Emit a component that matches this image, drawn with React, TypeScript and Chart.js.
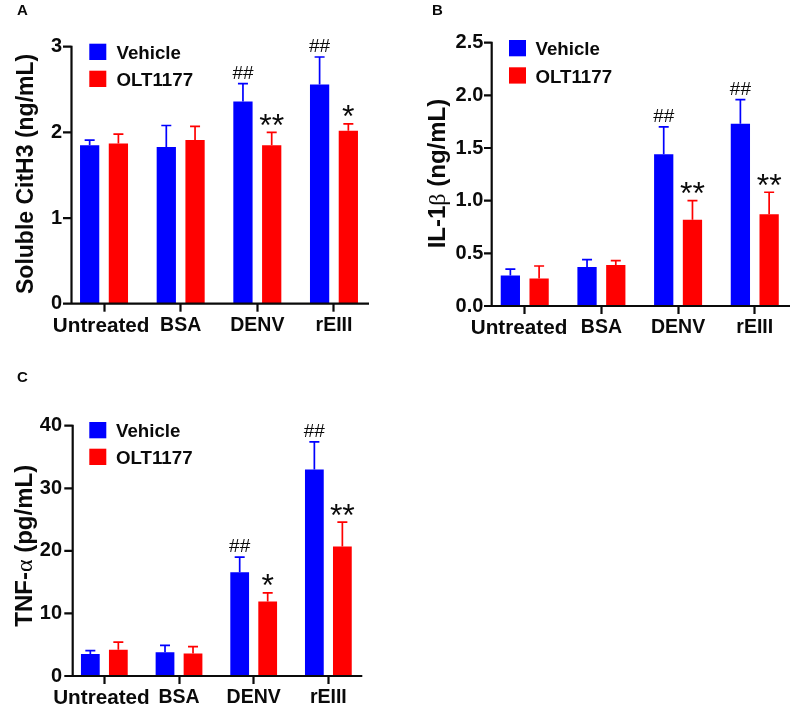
import React, { useEffect, useRef } from "react";
import { Chart, registerables } from "chart.js";

Chart.register(...registerables);

const FONT = '"Liberation Sans", Arial, sans-serif';
const BLUE = "#0000ff";
const RED = "#ff0000";
const BLACK = "#0a0a0a";

const seriesNames = ["Vehicle", "OLT1177"];
const categoriesA = ["Untreated ", "BSA", "DENV", "rEIII"];
const categoriesB = ["Untreated  ", "BSA", "DENV", "rEIII"];
const categoriesC = ["Untreated ", "BSA", "DENV", "rEIII"];

const vehicleA = [1.85, 1.83, 2.36, 2.56];
const vehicleErrA = [1.91, 2.08, 2.57, 2.88];
const oltA = [1.87, 1.91, 1.85, 2.02];
const oltErrA = [1.98, 2.07, 2.0, 2.1];
const vehicleMarksA = ["", "", "##", "##"];
const oltMarksA = ["", "", "**", "*"];

const vehicleB = [0.29, 0.37, 1.44, 1.73];
const vehicleErrB = [0.35, 0.44, 1.7, 1.96];
const oltB = [0.26, 0.39, 0.82, 0.87];
const oltErrB = [0.38, 0.43, 1.0, 1.08];
const vehicleMarksB = ["", "", "##", "##"];
const oltMarksB = ["", "", "**", "**"];

const vehicleC = [3.5, 3.8, 16.6, 33];
const vehicleErrC = [4.05, 4.9, 19, 37.4];
const oltC = [4.2, 3.6, 11.9, 20.7];
const oltErrC = [5.4, 4.7, 13.3, 24.6];
const vehicleMarksC = ["", "", "##", "##"];
const oltMarksC = ["", "", "*", "**"];

type Seg = { t: string; serif?: boolean };
type Panel = {
  letter: string;
  origin: [number, number];
  size: [number, number];
  plot: { left: number; right: number; top: number; bottom: number };
  axis: { x: number; start: number; end: number };
  categories: string[];
  vehicle: number[];
  vehicleErr: number[];
  olt: number[];
  oltErr: number[];
  vehicleMarks: string[];
  oltMarks: string[];
  yMax: number;
  yStep: number;
  yDecimals: number;
  tickPad: number;
  xPad: number;
  title: Seg[];
  titleSize: number;
  titleX: number;
  titleStart: number;
  legend: { x: number; textX: number; y1: number; y2: number };
  letterPos: [number, number];
};

const panels: Panel[] = [
  {
    letter: "A",
    origin: [0, 0],
    size: [405, 345],
    plot: { left: 65.7, right: 372.3, top: 46.7, bottom: 303.7 },
    axis: { x: 71.5, start: 63, end: 369 },
    categories: categoriesA,
    vehicle: vehicleA,
    vehicleErr: vehicleErrA,
    olt: oltA,
    oltErr: oltErrA,
    vehicleMarks: vehicleMarksA,
    oltMarks: oltMarksA,
    yMax: 3,
    yStep: 1,
    yDecimals: 0,
    tickPad: 3.7,
    xPad: 2,
    title: [{ t: "Soluble CitH3 (ng/mL)" }],
    titleSize: 23,
    titleX: 33,
    titleStart: 294,
    legend: { x: 89.3, textX: 116.5, y1: 43.7, y2: 70.7 },
    letterPos: [17, 15],
  },
  {
    letter: "B",
    origin: [410, 0],
    size: [390, 345],
    plot: { left: 486.4, right: 793.1, top: 42.7, bottom: 306 },
    axis: { x: 491.7, start: 484, end: 790 },
    categories: categoriesB,
    vehicle: vehicleB,
    vehicleErr: vehicleErrB,
    olt: oltB,
    oltErr: oltErrB,
    vehicleMarks: vehicleMarksB,
    oltMarks: oltMarksB,
    yMax: 2.5,
    yStep: 0.5,
    yDecimals: 1,
    tickPad: 3,
    xPad: 2,
    title: [{ t: "IL-1" }, { t: "\u03b2", serif: true }, { t: " (ng/mL)" }],
    titleSize: 24,
    titleX: 444.5,
    titleStart: 248.3,
    legend: { x: 509, textX: 535.5, y1: 40, y2: 67.3 },
    letterPos: [432, 15],
  },
  {
    letter: "C",
    origin: [0, 360],
    size: [405, 348],
    plot: { left: 67, right: 365.7, top: 425.7, bottom: 676 },
    axis: { x: 72.7, start: 64.3, end: 362.3 },
    categories: categoriesC,
    vehicle: vehicleC,
    vehicleErr: vehicleErrC,
    olt: oltC,
    oltErr: oltErrC,
    vehicleMarks: vehicleMarksC,
    oltMarks: oltMarksC,
    yMax: 40,
    yStep: 10,
    yDecimals: 0,
    tickPad: 5,
    xPad: 2,
    title: [{ t: "TNF-" }, { t: "\u03b1", serif: true }, { t: " (pg/mL)" }],
    titleSize: 24,
    titleX: 32,
    titleStart: 626.7,
    legend: { x: 89.3, textX: 116, y1: 422, y2: 448.7 },
    letterPos: [17, 382],
  },
];

function decorations(p: Panel) {
  const [ox, oy] = p.origin;
  return {
    id: "decorations" + p.letter,
    afterDatasetsDraw(chart: any) {
      const ctx = chart.ctx;
      const y = chart.scales.y;
      const errs = [p.vehicleErr, p.oltErr];
      const marks = [p.vehicleMarks, p.oltMarks];
      ctx.save();
      // error bars and significance marks
      chart.data.datasets.forEach((ds: any, di: number) => {
        const meta = chart.getDatasetMeta(di);
        meta.data.forEach((bar: any, i: number) => {
          const top = y.getPixelForValue(errs[di][i]);
          ctx.strokeStyle = ds.backgroundColor;
          ctx.lineWidth = 1.7;
          ctx.beginPath();
          ctx.moveTo(bar.x, bar.y);
          ctx.lineTo(bar.x, top);
          ctx.moveTo(bar.x - 5, top);
          ctx.lineTo(bar.x + 5, top);
          ctx.stroke();
          const m = marks[di][i];
          if (m) {
            ctx.fillStyle = BLACK;
            ctx.textAlign = "center";
            ctx.textBaseline = "alphabetic";
            if (m[0] === "#") {
              ctx.font = `19px ${FONT}`;
              ctx.fillText(m, bar.x, top - 5);
            } else {
              ctx.font = `32px ${FONT}`;
              ctx.fillText(m, bar.x, top + 3.5);
            }
          }
        });
      });
      // axis lines and y tick marks
      ctx.strokeStyle = BLACK;
      ctx.lineWidth = 2.2;
      ctx.beginPath();
      const ax = p.axis.x - ox;
      const bottom = p.plot.bottom - oy;
      ctx.moveTo(ax, p.plot.top - oy - 1);
      ctx.lineTo(ax, bottom + 1);
      ctx.moveTo(p.axis.start - ox, bottom);
      ctx.lineTo(p.axis.end - ox, bottom);
      y.ticks.forEach((t: any) => {
        const py = y.getPixelForValue(t.value);
        ctx.moveTo(p.axis.start - ox, py);
        ctx.lineTo(ax, py);
      });
      ctx.stroke();
      // legend
      const ys = [p.legend.y1 - oy, p.legend.y2 - oy];
      chart.data.datasets.forEach((ds: any, di: number) => {
        ctx.fillStyle = ds.backgroundColor;
        ctx.fillRect(p.legend.x - ox, ys[di], 17, 16.3);
        ctx.fillStyle = BLACK;
        ctx.font = `bold 18.7px ${FONT}`;
        ctx.textAlign = "left";
        ctx.textBaseline = "alphabetic";
        ctx.fillText(ds.label, p.legend.textX - ox, ys[di] + 15.3);
      });
      // panel letter
      ctx.font = `bold 15px ${FONT}`;
      ctx.fillStyle = BLACK;
      ctx.fillText(p.letter, p.letterPos[0] - ox, p.letterPos[1] - oy);
      // y axis title with mixed fonts
      ctx.translate(p.titleX - ox, p.titleStart - oy);
      ctx.rotate(-Math.PI / 2);
      let cursor = 0;
      p.title.forEach((s) => {
        ctx.font = s.serif
          ? `${p.titleSize}px "Liberation Serif", serif`
          : `bold ${p.titleSize}px ${FONT}`;
        ctx.fillText(s.t, cursor, 0);
        cursor += ctx.measureText(s.t).width;
      });
      ctx.restore();
    },
  };
}

function PanelChart({ p }: { p: Panel }) {
  const ref = useRef<HTMLCanvasElement>(null);
  useEffect(() => {
    const [ox, oy] = p.origin;
    const chart = new Chart(ref.current as HTMLCanvasElement, {
      type: "bar",
      data: {
        labels: p.categories,
        datasets: [
          { label: seriesNames[0], data: p.vehicle, backgroundColor: BLUE, categoryPercentage: 0.75, barPercentage: 0.67 },
          { label: seriesNames[1], data: p.olt, backgroundColor: RED, categoryPercentage: 0.75, barPercentage: 0.67 },
        ],
      },
      options: {
        responsive: false,
        animation: false,
        devicePixelRatio: 1,
        layout: {
          padding: { top: p.plot.top - oy, right: p.size[0] - (p.plot.right - ox), left: 0, bottom: 0 },
        },
        plugins: { legend: { display: false }, tooltip: { enabled: false }, title: { display: false } },
        scales: {
          x: {
            grid: { display: true, offset: false, drawOnChartArea: false, drawTicks: true, tickLength: 8, tickWidth: 2.2, tickColor: BLACK },
            border: { display: false },
            ticks: {
              autoSkip: false,
              maxRotation: 0,
              minRotation: 0,
              padding: p.xPad,
              color: BLACK,
              font: (c: any) => ({ family: FONT, weight: "bold", size: c.index === 0 ? 20.7 : 19.5 }),
            },
            afterFit: (s: any) => {
              s.height = p.size[1] - (p.plot.bottom - oy);
            },
          },
          y: {
            min: 0,
            max: p.yMax,
            grid: { display: false, drawTicks: false },
            border: { display: false },
            ticks: {
              stepSize: p.yStep,
              padding: p.tickPad,
              color: BLACK,
              font: { family: FONT, weight: "bold", size: 20 },
              callback: (v: any) => Number(v).toFixed(p.yDecimals),
            },
            afterFit: (s: any) => {
              s.width = p.plot.left - ox;
            },
          },
        },
      } as any,
      plugins: [decorations(p)],
    });
    return () => chart.destroy();
  }, [p]);
  return (
    <canvas
      ref={ref}
      width={p.size[0]}
      height={p.size[1]}
      style={{ position: "absolute", left: p.origin[0], top: p.origin[1], width: p.size[0], height: p.size[1] }}
    />
  );
}

export default function App() {
  return (
    <div style={{ position: "fixed", left: 0, top: 0, width: 793, height: 708, overflow: "hidden", background: "#fff" }}>
      {panels.map((p) => (
        <PanelChart key={p.letter} p={p} />
      ))}
    </div>
  );
}
